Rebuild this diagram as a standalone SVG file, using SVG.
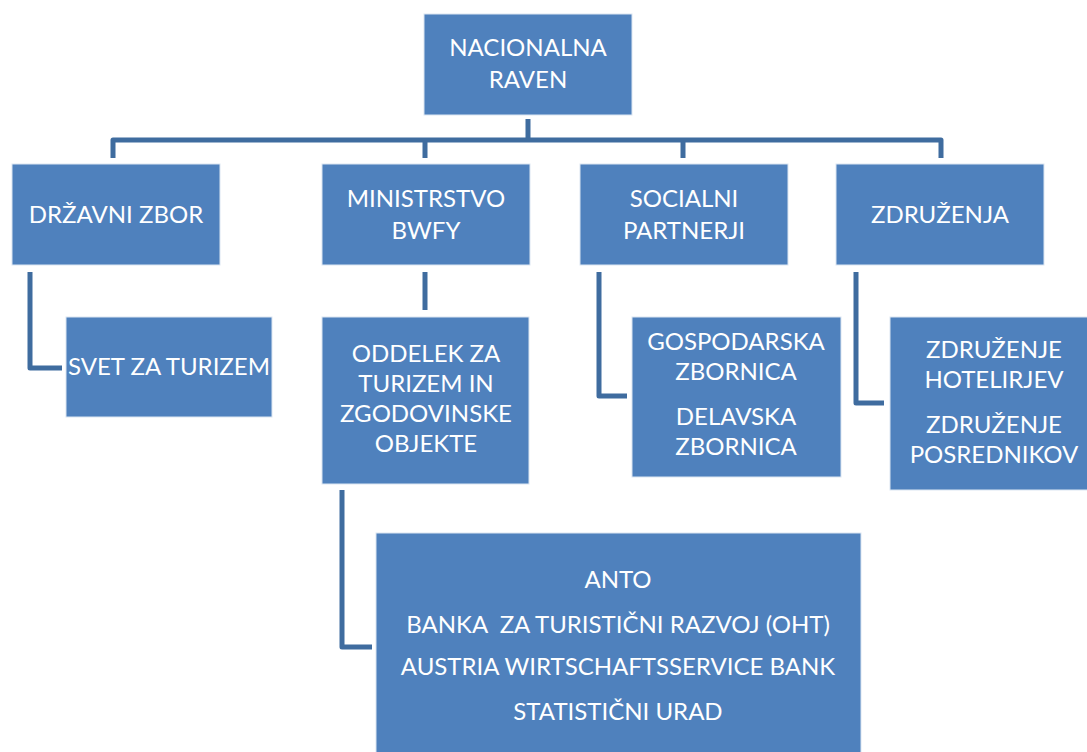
<svg xmlns="http://www.w3.org/2000/svg" width="1087" height="752" viewBox="0 0 1087 752">
  <style>
    .box { fill: #4F81BD; stroke: #DCE6F2; stroke-width: 1; }
    .lbl { font-family: Lato, "Open Sans", "Liberation Sans", sans-serif; font-size: 24px; fill: #FFFFFF; text-anchor: middle; white-space: pre; }
    .wire { fill: none; stroke: #3F6C9F; stroke-width: 5; stroke-linejoin: round; }
  </style>
  <rect width="1087" height="752" fill="#FFFFFF"/>

  <!-- connectors -->
  <g id="connectors">
    <path class="wire" d="M528,119 V140 M113,158 V140 H941 V158 M425,140 V158 M683,140 V158"/>
    <path class="wire" d="M30,272 V368 H62"/>
    <path class="wire" d="M425,272 V310"/>
    <path class="wire" d="M599,272 V396 H627"/>
    <path class="wire" d="M856,272 V403 H884"/>
    <path class="wire" d="M342,490 V647 H372"/>
  </g>

  <g id="nacionalna-raven">
    <rect class="box" x="424" y="14" width="208" height="101"/>
    <text class="lbl" x="528" y="56">NACIONALNA</text>
    <text class="lbl" x="528" y="88">RAVEN</text>
  </g>

  <g id="drzavni-zbor">
    <rect class="box" x="12" y="164" width="208" height="101"/>
    <text class="lbl" x="116" y="223">DRŽAVNI ZBOR</text>
  </g>

  <g id="ministrstvo">
    <rect class="box" x="322" y="164" width="208" height="101"/>
    <text class="lbl" x="426" y="207">MINISTRSTVO</text>
    <text class="lbl" x="426" y="239">BWFY</text>
  </g>

  <g id="socialni-partnerji">
    <rect class="box" x="580" y="164" width="208" height="101"/>
    <text class="lbl" x="684" y="207">SOCIALNI</text>
    <text class="lbl" x="684" y="239">PARTNERJI</text>
  </g>

  <g id="zdruzenja">
    <rect class="box" x="836" y="164" width="208" height="101"/>
    <text class="lbl" x="940" y="223">ZDRUŽENJA</text>
  </g>

  <g id="svet-za-turizem">
    <rect class="box" x="66" y="317" width="206" height="100"/>
    <text class="lbl" x="169" y="375">SVET ZA TURIZEM</text>
  </g>

  <g id="oddelek">
    <rect class="box" x="322" y="317" width="207" height="167"/>
    <text class="lbl" x="426" y="362">ODDELEK ZA</text>
    <text class="lbl" x="426" y="392">TURIZEM IN</text>
    <text class="lbl" x="426" y="422">ZGODOVINSKE</text>
    <text class="lbl" x="426" y="452">OBJEKTE</text>
  </g>

  <g id="zbornice">
    <rect class="box" x="632" y="317" width="209" height="160"/>
    <text class="lbl" x="736" y="350">GOSPODARSKA</text>
    <text class="lbl" x="736" y="380">ZBORNICA</text>
    <text class="lbl" x="736" y="425">DELAVSKA</text>
    <text class="lbl" x="736" y="455">ZBORNICA</text>
  </g>

  <g id="zdruzenje-hotelirjev">
    <rect class="box" x="890" y="317" width="210" height="173"/>
    <text class="lbl" x="994" y="358">ZDRUŽENJE</text>
    <text class="lbl" x="994" y="388">HOTELIRJEV</text>
    <text class="lbl" x="994" y="433">ZDRUŽENJE</text>
    <text class="lbl" x="994" y="463">POSREDNIKOV</text>
  </g>

  <g id="institucije">
    <rect class="box" x="376" y="533" width="485" height="230"/>
    <text class="lbl" x="618" y="588">ANTO</text>
    <text class="lbl" x="618" y="633">BANKA  ZA TURISTIČNI RAZVOJ (OHT)</text>
    <text class="lbl" x="618" y="675">AUSTRIA WIRTSCHAFTSSERVICE BANK</text>
    <text class="lbl" x="618" y="720">STATISTIČNI URAD</text>
  </g>
</svg>
